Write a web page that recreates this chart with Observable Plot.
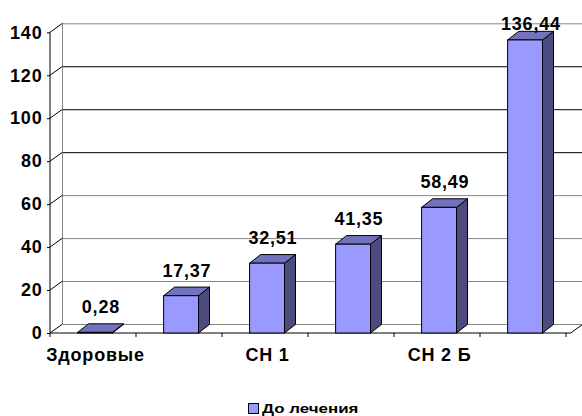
<!DOCTYPE html>
<html>
<head>
<meta charset="utf-8">
<script src="https://cdn.jsdelivr.net/npm/d3@7"></script>
<script src="https://cdn.jsdelivr.net/npm/@observablehq/plot@0.6"></script>
<style>
  body { margin: 0; background: #fff; }
  #chart svg text { letter-spacing: 0.8px; }
  #legend {
    display: flex; align-items: center;
    margin: 21px 0 0 248px;
    font: bold 13px "Liberation Sans", Arial, sans-serif; color: #000;
  }
  #legend .swatch { width: 9px; height: 9px; border: 1px solid #000; margin-right: 3px; }
  #legend .name { display: inline-block; transform: scaleX(1.3); transform-origin: left center; }
</style>
</head>
<body>
<div id="chart"></div>
<div id="legend"></div>
<script>
// Category tick labels (only every other group is labelled on the axis)
const xLabels = ["Здоровые", "", "СН 1", "", "СН 2 Б", ""];
// Series values
const values = [0.28, 17.37, 32.51, 41.35, 58.49, 136.44];
const seriesName = "До лечения";
// Value-axis ticks
const yTicks = [0, 20, 40, 60, 80, 100, 120, 140];

const data = values.map((value, i) => ({i, value}));
const yMax = d3.max(yTicks);

// Colours of the box faces
const faceFront = "#9999ff";
const faceTop = "#7272bf";
const faceSide = "#4b4b7f";

// Pseudo-3D offsets (pixels): back wall and bar depth
const wall = {dx: 12.5, dy: -9};
const depth = {dx: 11, dy: -8.6};
const insetL = 25.6, insetR = 25.5;

const fmt = v => d3.format(".2f")(v).replace(".", ",");

// Walls, floor and axis lines of the 3D box
function box3d(index, {x, y}, values, dims) {
  const {width, marginLeft, marginRight} = dims;
  const x0 = marginLeft, x1 = width - marginRight;
  const y0 = y(0), yTop = y(yMax);
  const g = d3.create("svg:g").attr("fill", "none").attr("stroke-width", 1);
  const line = (ax, ay, bx, by, stroke) =>
    g.append("line").attr("x1", ax).attr("y1", ay).attr("x2", bx).attr("y2", by).attr("stroke", stroke);
  line(x0 + wall.dx, yTop + wall.dy, x0 + wall.dx, y0 + wall.dy, "#868686");
  for (const t of yTicks) line(x0, y(t), x0 + wall.dx, y(t) + wall.dy, "#000");
  line(x1, y0, x1 + wall.dx, y0 + wall.dy, "#000");
  line(x0, yTop, x0, y0, "#000");
  line(x0, y0, x1, y0, "#000");
  const step = x.bandwidth();
  for (let k = 0; k <= data.length; k++) {
    const xb = x0 + k * step;
    line(xb, y0, xb, y0 + 4, "#000");
  }
  return g.node();
}

// Top and right-hand side faces of each bar
function barDepth(index, {x, y}) {
  const bw = x.bandwidth();
  const g = d3.create("svg:g").attr("stroke", "#000").attr("stroke-width", 1).attr("stroke-linejoin", "round");
  for (const d of data) {
    const l = x(d.i) + insetL, r = x(d.i) + bw - insetR;
    const t = y(d.value), b = y(0);
    g.append("path")
      .attr("d", `M${r},${t}L${r + depth.dx},${t + depth.dy}L${r + depth.dx},${b + depth.dy}L${r},${b}Z`)
      .attr("fill", faceSide);
    g.append("path")
      .attr("d", `M${l},${t}L${l + depth.dx},${t + depth.dy}L${r + depth.dx},${t + depth.dy}L${r},${t}Z`)
      .attr("fill", faceTop);
  }
  return g.node();
}

// Value labels sit above each bar; a label that would leave the top of the
// chart is pulled closer to its bar.
const labelOpts = {x: "i", y: "value", text: d => fmt(d.value), dx: 5.4, lineAnchor: "bottom", fill: "#000"};
const nearTop = d => d.value > yMax * 0.93;

const chart = Plot.plot({
  width: 582,
  height: 380,
  marginLeft: 50,
  marginRight: 11.3,
  marginTop: 32.3,
  marginBottom: 47,
  style: {
    fontFamily: "'Liberation Sans', Arial, sans-serif",
    fontSize: "18px",
    fontWeight: "bold",
    color: "#000",
    background: "#fff",
    overflow: "visible"
  },
  x: {
    type: "band",
    domain: d3.range(data.length),
    padding: 0,
    tickSize: 0,
    tickPadding: 15,
    tickFormat: i => xLabels[i],
    label: null
  },
  y: {
    domain: [0, yMax],
    ticks: yTicks,
    tickSize: 3,
    tickPadding: 5,
    label: null
  },
  marks: [
    Plot.ruleY(yTicks, {
      dx: wall.dx, dy: wall.dy,
      stroke: t => (t >= 80 && t <= 120) ? "#000" : "#868686"
    }),
    box3d,
    barDepth,
    Plot.barY(data, {
      x: "i", y: "value",
      fill: faceFront, stroke: "#000", strokeWidth: 1,
      insetLeft: insetL, insetRight: insetR
    }),
    Plot.text(data, {...labelOpts, filter: d => !nearTop(d), dy: -19.5}),
    Plot.text(data, {...labelOpts, filter: nearTop, dy: -10})
  ]
});
document.getElementById("chart").append(chart);

// Legend below the plot
const legend = d3.select("#legend");
legend.append("span").attr("class", "swatch").style("background", faceFront);
legend.append("span").attr("class", "name").text(seriesName);
</script>
</body>
</html>
